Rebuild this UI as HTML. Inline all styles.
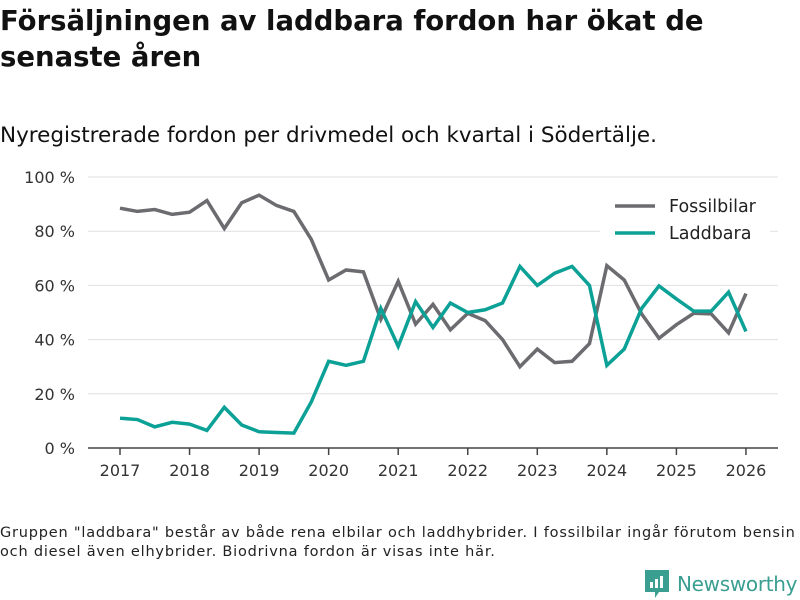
<!DOCTYPE html>
<html><head><meta charset="utf-8"><style>
body{margin:0;width:800px;height:600px;background:#fff;font-family:"DejaVu Sans","Liberation Sans",sans-serif;color:#111;overflow:hidden;position:relative}
.t{position:absolute;left:0;top:3px;font-size:27.5px;font-weight:bold;line-height:36px;width:790px}
.s{position:absolute;left:0;top:123px;font-size:21.5px}
.f{position:absolute;left:0;top:524px;font-size:14.5px;letter-spacing:0.8px;line-height:19px;color:#222;white-space:nowrap}
</style></head><body>
<div class="t">Försäljningen av laddbara fordon har ökat de senaste åren</div>
<div class="s">Nyregistrerade fordon per drivmedel och kvartal i Södertälje.</div>
<svg id="c" width="800" height="600" style="position:absolute;left:0;top:0"></svg>
<div class="f">Gruppen "laddbara" består av både rena elbilar och laddhybrider. I fossilbilar ingår förutom bensin<br>och diesel även elhybrider. Biodrivna fordon är visas inte här.</div>
<div style="position:absolute;left:645px;top:570px;display:flex;align-items:center">
<svg width="24" height="28"><path d="M0 0H24V22H14L10 28V22H0Z" fill="#3a9e91"/><rect x="5" y="12" width="3" height="6" fill="#fff"/><rect x="10" y="9" width="3" height="9" fill="#fff"/><rect x="15" y="6" width="3" height="12" fill="#fff"/></svg>
<span style="font-size:20px;color:#3a9e91;margin-left:8px;letter-spacing:-0.3px">Newsworthy</span></div>
<script>
const years=[2017,2018,2019,2020,2021,2022,2023,2024,2025,2026];
const yTicks=[0,20,40,60,80,100];
const fossil=[88.5,87.3,88,86.2,87,91.3,81,90.5,93.3,89.5,87.3,77,62,65.7,65,47.5,61.5,45.7,53,43.6,49.7,47,40,30,36.5,31.5,32,38.5,67.3,62,49.5,40.5,45.5,49.7,49.5,42.5,57];
const laddbara=[11,10.5,7.8,9.5,8.8,6.5,15,8.5,6,5.7,5.5,17,32,30.5,32,51.5,37.5,54,44.5,53.5,50,51,53.5,67,60,64.5,67,60,30.5,36.5,51.5,59.8,55,50.5,50.5,57.5,43];
const svg=document.getElementById('c');const NS='http://www.w3.org/2000/svg';
const X=t=>120+(t-2017)*69.55, Y=v=>448-v*2.71;
function mk(tag,a,txt){const e=document.createElementNS(NS,tag);for(const k in a)e.setAttribute(k,a[k]);if(txt!=null)e.textContent=txt;svg.appendChild(e);return e;}
yTicks.forEach(v=>{
 if(v>0){const g=mk('line',{x1:88,x2:778,y1:Y(v),y2:Y(v),stroke:'#e0e0e0','stroke-width':1});
 
 }
 const t=mk('text',{x:75,y:Y(v)+6,'text-anchor':'end','font-size':16,fill:'#333'},v+' %');
 
 
});
const ax=mk('line',{x1:88,x2:778,y1:448,y2:448,stroke:'#444','stroke-width':1.5});


years.forEach(y=>{
 mk('line',{x1:X(y),x2:X(y),y1:448,y2:455,stroke:'#444','stroke-width':1.5});
 const t=mk('text',{x:X(y),y:476,'text-anchor':'middle','font-size':16,fill:'#333'},y);
 
 
});
function line(d,col,name){const p=mk('polyline',{points:d.map((v,i)=>X(2017+i/4)+','+Y(v)).join(' '),fill:'none',stroke:col,'stroke-width':3.5,'stroke-linejoin':'miter'});
 
 }
line(fossil,'#6c6b70','fossilbilar-line');
line(laddbara,'#0ca196','laddbara-line');
[['Fossilbilar','#6c6b70',206],['Laddbara','#0ca196',233]].forEach(([n,c,y])=>{
 mk('rect',{x:600,y:y-14,width:170,height:26,fill:'#fff'});
 mk('line',{x1:615,x2:655,y1:y,y2:y,stroke:c,'stroke-width':3.5});
 const t=mk('text',{x:669,y:y+6,'font-size':17.5,fill:'#222'},n);
 
 
});
</script>
</body></html>
